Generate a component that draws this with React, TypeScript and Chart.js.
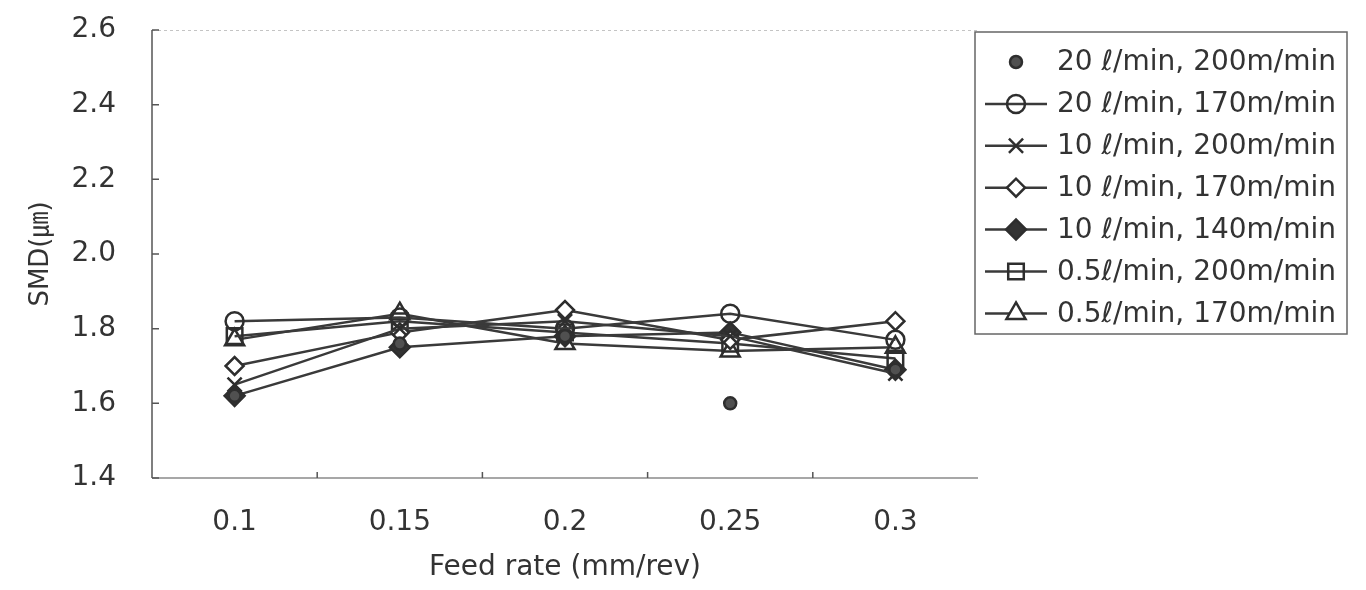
import React, { useEffect, useRef } from 'react';
import { Chart, registerables } from 'chart.js';
import { drawPoint } from 'chart.js/helpers';

Chart.register(...registerables);

const feedRates = ['0.1', '0.15', '0.2', '0.25', '0.3'];
const yTicks = [1.4, 1.6, 1.8, 2.0, 2.2, 2.4, 2.6];

const seriesLabels = [
  '20 ℓ/min, 200m/min',
  '20 ℓ/min, 170m/min',
  '10 ℓ/min, 200m/min',
  '10 ℓ/min, 170m/min',
  '10 ℓ/min, 140m/min',
  '0.5ℓ/min, 200m/min',
  '0.5ℓ/min, 170m/min',
];

const s20_200 = [1.62, 1.76, 1.78, 1.60, 1.69];
const s20_170 = [1.82, 1.83, 1.80, 1.84, 1.77];
const s10_200 = [1.65, 1.80, 1.82, 1.78, 1.68];
const s10_170 = [1.70, 1.79, 1.85, 1.77, 1.82];
const s10_140 = [1.62, 1.75, 1.78, 1.79, 1.69];
const s05_200 = [1.78, 1.82, 1.79, 1.76, 1.72];
const s05_170 = [1.77, 1.84, 1.76, 1.74, 1.75];

const INK = '#333333';
const LINE = '#3a3a3a';
const FONT_FAMILY = '"DejaVu Sans", "Noto Sans CJK KR", sans-serif';

const framePlugin = {
  id: 'frame',
  beforeDatasetsDraw(chart: any) {
    const { ctx, chartArea, scales } = chart;
    const { left, right, top, bottom } = chartArea;
    const x = scales.x;
    const y = scales.y;
    ctx.save();
    ctx.strokeStyle = '#c4c4c4';
    ctx.lineWidth = 1;
    ctx.setLineDash([3, 3]);
    ctx.beginPath();
    ctx.moveTo(left, top + 0.5);
    ctx.lineTo(right, top + 0.5);
    ctx.stroke();
    ctx.setLineDash([]);
    ctx.strokeStyle = '#8a8a8a';
    ctx.lineWidth = 1.5;
    ctx.beginPath();
    ctx.moveTo(left, bottom);
    ctx.lineTo(right, bottom);
    ctx.stroke();
    ctx.strokeStyle = '#555555';
    ctx.lineWidth = 1.5;
    ctx.beginPath();
    ctx.moveTo(left, top);
    ctx.lineTo(left, bottom);
    ctx.stroke();
    ctx.beginPath();
    yTicks.forEach((v) => {
      const py = y.getPixelForValue(v);
      ctx.moveTo(left, py);
      ctx.lineTo(left + 7, py);
    });
    for (let i = 0; i < feedRates.length - 1; i++) {
      const px = (x.getPixelForValue(i) + x.getPixelForValue(i + 1)) / 2;
      ctx.moveTo(px, bottom);
      ctx.lineTo(px, bottom - 6);
    }
    ctx.stroke();
    ctx.restore();
  },
};

const legendPlugin = {
  id: 'boxLegend',
  afterDraw(chart: any) {
    const { ctx } = chart;
    const boxL = 975;
    const boxR = 1347;
    const boxT = 32;
    const boxB = 334;
    const rowY0 = 62;
    const rowDy = 41.9;
    const lineX0 = 985;
    const lineX1 = 1047;
    const markX = 1016;
    const textX = 1057;
    ctx.save();
    ctx.fillStyle = '#ffffff';
    ctx.fillRect(boxL, boxT, boxR - boxL, boxB - boxT);
    ctx.strokeStyle = '#666666';
    ctx.lineWidth = 1.5;
    ctx.strokeRect(boxL, boxT, boxR - boxL, boxB - boxT);
    chart.data.datasets.forEach((ds: any, i: number) => {
      const cy = rowY0 + i * rowDy;
      if (ds.showLine !== false) {
        ctx.strokeStyle = LINE;
        ctx.lineWidth = 2.5;
        ctx.beginPath();
        ctx.moveTo(lineX0, cy);
        ctx.lineTo(lineX1, cy);
        ctx.stroke();
      }
      ctx.fillStyle = ds.pointBackgroundColor;
      ctx.strokeStyle = ds.pointBorderColor;
      ctx.lineWidth = ds.pointBorderWidth;
      drawPoint(ctx, {
        pointStyle: ds.pointStyle,
        rotation: 0,
        radius: ds.pointRadius,
        borderWidth: ds.pointBorderWidth,
      } as any, markX, cy);
      ctx.fillStyle = INK;
      ctx.font = `28px ${FONT_FAMILY}`;
      ctx.textAlign = 'left';
      ctx.textBaseline = 'middle';
      ctx.fillText(ds.label, textX, cy + 1);
    });
    ctx.restore();
  },
};

function makeDataset(label: string, data: number[], style: string, radius: number, fill: string, showLine = true) {
  return {
    label,
    data,
    showLine,
    borderColor: LINE,
    borderWidth: 2.5,
    pointStyle: style,
    pointRadius: radius,
    pointBorderWidth: 2.5,
    pointBackgroundColor: fill,
    pointBorderColor: '#2e2e2e',
    tension: 0,
    fill: false,
  };
}

export default function App() {
  const canvasRef = useRef<HTMLCanvasElement | null>(null);

  useEffect(() => {
    if (!canvasRef.current) return;
    const tickFont = { family: FONT_FAMILY, size: 28 };
    const chart = new Chart(canvasRef.current, {
      type: 'line',
      data: {
        labels: feedRates,
        datasets: [
          makeDataset(seriesLabels[0], s20_200, 'circle', 6, '#505050', false),
          makeDataset(seriesLabels[1], s20_170, 'circle', 9, 'rgba(255,255,255,0)'),
          makeDataset(seriesLabels[2], s10_200, 'crossRot', 10, 'rgba(255,255,255,0)'),
          makeDataset(seriesLabels[3], s10_170, 'rectRot', 9, '#ffffff'),
          makeDataset(seriesLabels[4], s10_140, 'rectRot', 10, '#333333'),
          makeDataset(seriesLabels[5], s05_200, 'rect', 11, 'rgba(255,255,255,0)'),
          makeDataset(seriesLabels[6], s05_170, 'triangle', 11, '#ffffff'),
        ] as any,
      },
      options: {
        animation: false,
        responsive: false,
        devicePixelRatio: 1,
        layout: { padding: { top: 30, right: 388, left: 0, bottom: 0 } },
        plugins: {
          legend: { display: false },
          tooltip: { enabled: false },
        },
        scales: {
          x: {
            type: 'category',
            offset: true,
            grid: { display: false, drawTicks: false },
            border: { display: false },
            ticks: { font: tickFont, color: INK, padding: 28 },
            title: {
              display: true,
              text: 'Feed rate (mm/rev)',
              font: tickFont,
              color: INK,
              padding: { top: 0, bottom: 5 },
            },
            afterFit: (s: any) => {
              s.height = 112;
              s.paddingLeft = 0;
              s.paddingRight = 0;
            },
          },
          y: {
            type: 'linear',
            min: 1.4,
            max: 2.6,
            afterBuildTicks: (s: any) => {
              s.ticks = yTicks.map((v) => ({ value: v }));
            },
            grid: { display: false, drawTicks: false },
            border: { display: false },
            ticks: {
              font: tickFont,
              color: INK,
              padding: 36,
              callback: (v: any) => Number(v).toFixed(1),
            },
            title: {
              display: true,
              text: 'SMD(㎛)',
              font: { family: FONT_FAMILY, size: 26 },
              color: INK,
              padding: { top: 26, bottom: 0 },
            },
            afterFit: (s: any) => {
              s.width = 152;
              s.paddingTop = 0;
              s.paddingBottom = 0;
            },
          },
        },
      } as any,
      plugins: [framePlugin, legendPlugin],
    });
    return () => chart.destroy();
  }, []);

  return (
    <div style={{ position: 'fixed', left: 0, top: 0, width: 1366, height: 590, background: '#ffffff' }}>
      <canvas ref={canvasRef} width={1366} height={590} style={{ display: 'block' }} />
    </div>
  );
}
